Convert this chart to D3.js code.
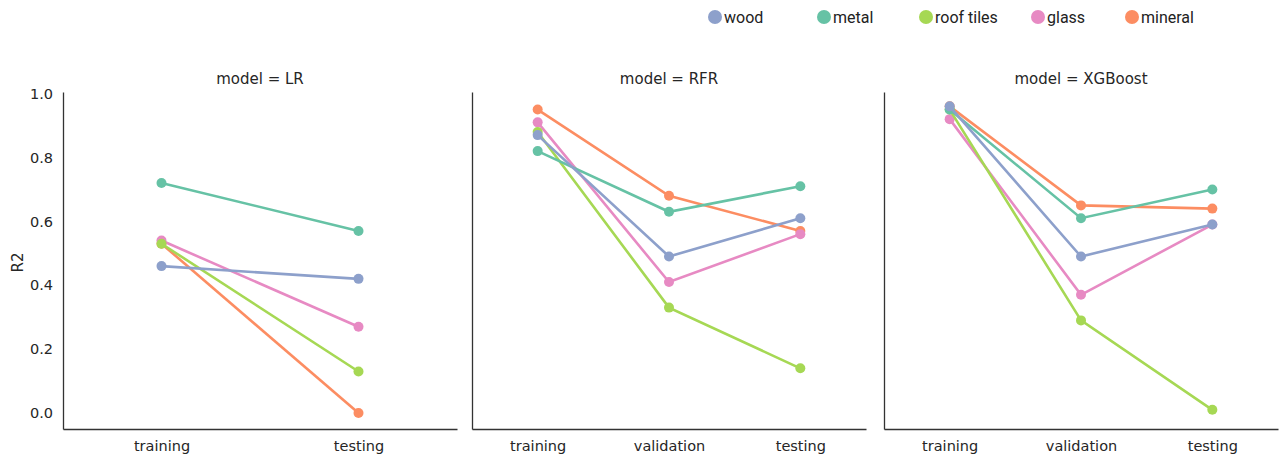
<!DOCTYPE html>
<html>
<head>
<meta charset="utf-8">
<script src="https://cdn.jsdelivr.net/npm/d3@7"></script>
<style>
  body { margin: 0; background: #fff; }
  svg { display: block; }
</style>
</head>
<body>
<div id="chart"></div>
<script>
// data
const materials = ['wood', 'metal', 'roof tiles', 'glass', 'mineral'];
const colors = ['#8da0cb', '#66c2a5', '#a6d854', '#e78ac3', '#fc8d62'];
const models = ['LR', 'RFR', 'XGBoost'];
const stagesLR = ['training', 'testing'];
const stagesTree = ['training', 'validation', 'testing'];
const yTicks = [0.0, 0.2, 0.4, 0.6, 0.8, 1.0];

// R2 per material, one array per model (order of materials above)
const r2LR = [
  [0.46, 0.42],
  [0.72, 0.57],
  [0.53, 0.13],
  [0.54, 0.27],
  [0.53, 0.00]
];
const r2RFR = [
  [0.87, 0.49, 0.61],
  [0.82, 0.63, 0.71],
  [0.88, 0.33, 0.14],
  [0.91, 0.41, 0.56],
  [0.95, 0.68, 0.57]
];
const r2XGB = [
  [0.96, 0.49, 0.59],
  [0.95, 0.61, 0.70],
  [0.95, 0.29, 0.01],
  [0.92, 0.37, 0.59],
  [0.96, 0.65, 0.64]
];

const width = 1280, height = 457;
const panels = [
  { model: models[0], stages: stagesLR, values: r2LR, left: 63 },
  { model: models[1], stages: stagesTree, values: r2RFR, left: 472 },
  { model: models[2], stages: stagesTree, values: r2XGB, left: 884 }
];
const panelW = 394;
const plotTop = 92, plotBottom = 429;
const axisColor = '#333';
const tickFont = 'DejaVu Sans, sans-serif';

const svg = d3.select('#chart').append('svg')
  .attr('width', width)
  .attr('height', height);

const y = d3.scaleLinear().domain([-0.05, 1.005]).range([plotBottom, plotTop]);

panels.forEach((p, pi) => {
  const x = d3.scalePoint()
    .domain(p.stages)
    .range([p.left, p.left + panelW])
    .padding(0.5);

  const g = svg.append('g');

  // title
  g.append('text')
    .attr('x', p.left + panelW / 2)
    .attr('y', 84)
    .attr('text-anchor', 'middle')
    .attr('font-family', tickFont)
    .attr('font-size', 15)
    .attr('fill', '#262626')
    .text('model = ' + p.model);

  // y axis
  const yAxis = d3.axisLeft(y).tickValues(pi === 0 ? yTicks : []).tickSize(0).tickPadding(10)
    .tickFormat(d3.format('.1f'));
  const ya = g.append('g').attr('transform', `translate(${p.left},0)`).call(yAxis);
  ya.select('.domain').attr('stroke', axisColor).attr('stroke-width', 1.3);
  ya.selectAll('text').attr('font-family', tickFont).attr('font-size', 14.5).attr('fill', '#262626');

  // x axis
  const xAxis = d3.axisBottom(x).tickSize(0).tickPadding(12);
  const xa = g.append('g').attr('transform', `translate(0,${plotBottom})`).call(xAxis);
  xa.select('.domain').attr('stroke', axisColor).attr('stroke-width', 1.3);
  xa.selectAll('text').attr('font-family', tickFont).attr('font-size', 14.5).attr('fill', '#262626');

  const line = d3.line().x((d, i) => x(p.stages[i])).y(d => y(d));

  // earlier hues sit on top, so draw in reverse
  for (let k = materials.length - 1; k >= 0; k--) {
    const vals = p.values[k];
    const s = g.append('g');
    s.append('path')
      .attr('d', line(vals))
      .attr('fill', 'none')
      .attr('stroke', colors[k])
      .attr('stroke-width', 2.6);
    s.selectAll('circle')
      .data(vals)
      .enter()
      .append('circle')
      .attr('cx', (d, i) => x(p.stages[i]))
      .attr('cy', d => y(d))
      .attr('r', 5)
      .attr('fill', colors[k]);
  }
});

// y label
svg.append('text')
  .attr('transform', `translate(23,${(plotTop + plotBottom) / 2 + 2}) rotate(-90)`)
  .attr('text-anchor', 'middle')
  .attr('font-family', tickFont)
  .attr('font-size', 15)
  .attr('fill', '#262626')
  .text('R2');

// legend
const legendX = [715, 824, 926, 1038, 1132];
const legend = svg.append('g');
materials.forEach((m, i) => {
  legend.append('circle')
    .attr('cx', legendX[i])
    .attr('cy', 17)
    .attr('r', 7)
    .attr('fill', colors[i]);
  legend.append('text')
    .attr('x', legendX[i] + 9)
    .attr('y', 22.5)
    .attr('font-family', 'Roboto, sans-serif')
    .attr('font-size', 16)
    .attr('fill', '#222')
    .text(m);
});
</script>
</body>
</html>
